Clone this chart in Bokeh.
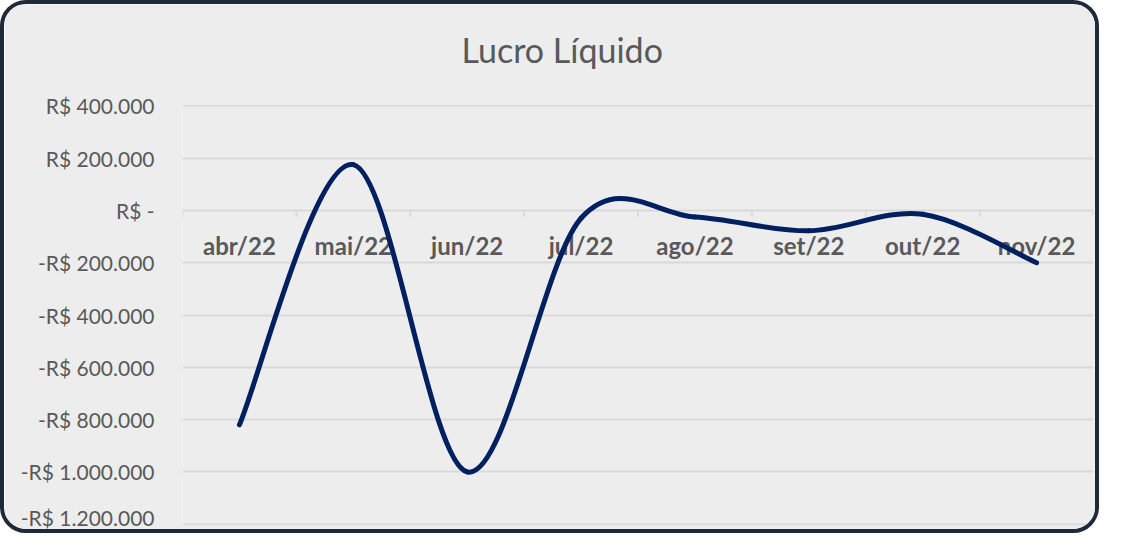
import math
from bokeh.plotting import figure
from bokeh.models import Range1d, FixedTicker, Title
from bokeh.embed import file_html
from bokeh.resources import INLINE
from bokeh.core.properties import value

# ---- data ----
months = ["abr/22", "mai/22", "jun/22", "jul/22", "ago/22", "set/22", "out/22", "nov/22"]
lucro = [-820000, 175000, -1000000, -30000, -25000, -78000, -15000, -200000]
y_ticks = [400000, 200000, 0, -200000, -400000, -600000, -800000, -1000000, -1200000]
y_tick_labels = ["R$ 400.000", "R$ 200.000", "R$ -", "-R$ 200.000", "-R$ 400.000",
                 "-R$ 600.000", "-R$ 800.000", "-R$ 1.000.000", "-R$ 1.200.000"]
title_text = "Lucro Líquido"

FONT = "Lato"
GRAY = "#595959"
GRID = "#D9D9D9"
BG = "#EDEDED"
LINE = "#002060"

W, H = 1099, 533
ML, MT, MR, MB = 178, 100, 10, 12
FW = W - ML - MR
FH = H - MT - MB

x_lo, x_hi = -0.5, len(months) - 0.5
y_lo, y_hi = -1205000, 405000

p = figure(width=W, height=H, x_range=Range1d(x_lo, x_hi), y_range=Range1d(y_lo, y_hi),
           output_backend="svg", toolbar_location=None,
           min_border_left=ML, min_border_top=MT, min_border_right=MR, min_border_bottom=MB,
           background_fill_color=BG, border_fill_color=BG,
           styles={"border": "4px solid #1F2A38", "border-radius": "26px",
                   "overflow": "hidden"})
p.outline_line_color = None
p.xgrid.visible = False
p.xaxis.visible = False

# title (closest panel above the frame is p.title; spacer goes outside it)
p.title.text = title_text
p.title.align = "left"
p.title.offset = 279
p.title.standoff = 0
p.title.text_font = FONT
p.title.text_font_size = "34px"
p.title.text_font_style = "normal"
p.title.text_color = GRAY
p.add_layout(Title(text="\u00a0", text_font=FONT, text_font_size="27px", standoff=0), "above")

# y axis
p.yaxis.ticker = FixedTicker(ticks=y_ticks)
p.yaxis.major_label_overrides = {t: l for t, l in zip(y_ticks, y_tick_labels)}
p.yaxis.axis_line_color = None
p.yaxis.major_tick_line_color = None
p.yaxis.minor_tick_line_color = None
p.yaxis.major_label_standoff = 22
p.yaxis.major_label_text_font = FONT
p.yaxis.major_label_text_font_size = "21px"
p.yaxis.major_label_text_color = GRAY

p.ygrid.ticker = FixedTicker(ticks=y_ticks)
p.ygrid.grid_line_color = GRID
p.ygrid.grid_line_width = 2

sx = FW / (x_hi - x_lo)
sy = FH / (y_hi - y_lo)

# category axis tick marks at the zero line (category boundaries)
bounds = [i - 0.5 for i in range(len(months) + 1)]
p.segment(x0=bounds, y0=[0] * len(bounds), x1=bounds, y1=[-6 / sy] * len(bounds),
          line_color=GRID, line_width=2)

# category labels
xs = list(range(len(months)))
p.text(x=xs, y=[0] * len(months), text=months, y_offset=35,
       text_align="center", text_baseline="middle",
       text_font=value(FONT), text_font_style="bold", text_font_size="24px",
       text_color=GRAY)

# smoothed line (Excel-like bezier smoothing computed in pixel space)
pts = [(i * sx, v * sy) for i, v in enumerate(lucro)]
n = len(pts)

def dist(a, b):
    return math.hypot(a[0] - b[0], a[1] - b[1])

x0, y0, x1, y1, cx0, cy0, cx1, cy1 = [], [], [], [], [], [], [], []
for i in range(n - 1):
    q0 = pts[max(i - 1, 0)]
    q1 = pts[i]
    q2 = pts[i + 1]
    q3 = pts[min(i + 2, n - 1)]
    d02, d12, d13 = dist(q0, q2), dist(q1, q2), dist(q1, q3)
    f = 1 / 6 if d02 / 6 < d12 / 2 else d12 / (2 * d02)
    g = 1 / 6 if d13 / 6 < d12 / 2 else d12 / (2 * d13)
    c1 = (q1[0] + f * (q2[0] - q0[0]), q1[1] + f * (q2[1] - q0[1]))
    c2 = (q2[0] - g * (q3[0] - q1[0]), q2[1] - g * (q3[1] - q1[1]))
    x0.append(q1[0] / sx); y0.append(q1[1] / sy)
    x1.append(q2[0] / sx); y1.append(q2[1] / sy)
    cx0.append(c1[0] / sx); cy0.append(c1[1] / sy)
    cx1.append(c2[0] / sx); cy1.append(c2[1] / sy)

p.bezier(x0=x0, y0=y0, x1=x1, y1=y1, cx0=cx0, cy0=cy0, cx1=cx1, cy1=cy1,
         line_color=LINE, line_width=5, line_cap="round")

open("out.html", "w").write(file_html(p, INLINE))
